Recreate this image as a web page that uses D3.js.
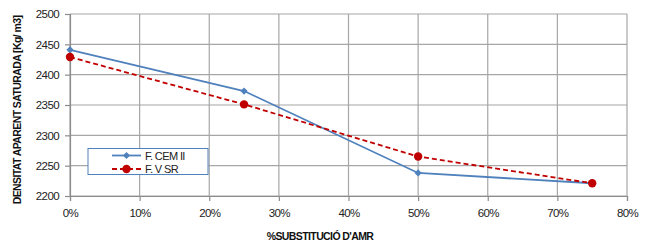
<!DOCTYPE html>
<html><head><meta charset="utf-8">
<script src="https://cdn.jsdelivr.net/npm/d3@7"></script>
<style>body{margin:0;background:#fff}svg{display:block;font-family:"Liberation Sans",Arial,sans-serif}</style>
</head><body>
<script>
const xValues = [0, 25, 50, 75];
const cemII = [2441, 2373, 2238, 2221];
const vSR = [2429, 2351, 2265, 2221];
const seriesNames = ["F. CEM II", "F. V SR"];
const yTicks = [2200, 2250, 2300, 2350, 2400, 2450, 2500];
const xTicks = [0, 10, 20, 30, 40, 50, 60, 70, 80];
const xTitle = "%SUBSTITUCIÓ D'AMR";
const yTitle = "DENSITAT APARENT SATURADA [Kg/ m3]";

const W = 648, H = 241;
const svg = d3.select("body").append("svg").attr("width", W).attr("height", H);
const x = d3.scaleLinear().domain([0, 80]).range([70, 627]);
const y = d3.scaleLinear().domain([2200, 2500]).range([196, 14]);

// gridlines
svg.append("g").selectAll("line").data(yTicks).join("line")
  .attr("x1", x(0)).attr("x2", x(80)).attr("y1", d => y(d)).attr("y2", d => y(d))
  .attr("stroke", "#a6a6a6").attr("stroke-width", 1.2);
svg.append("g").selectAll("line").data(xTicks).join("line")
  .attr("x1", d => x(d)).attr("x2", d => x(d)).attr("y1", y(2200)).attr("y2", y(2500))
  .attr("stroke", "#a6a6a6").attr("stroke-width", 1.2);

// axes
const xAxis = svg.append("g").attr("transform", `translate(0,${y(2200)})`)
  .call(d3.axisBottom(x).tickValues(xTicks).tickFormat(d => d + "%").tickSize(5).tickPadding(8));
const yAxis = svg.append("g").attr("transform", `translate(${x(0)},0)`)
  .call(d3.axisLeft(y).tickValues(yTicks).tickFormat(d3.format("d")).tickSize(5).tickPadding(6));
[xAxis, yAxis].forEach(a => {
  a.select(".domain").attr("stroke", "#8c8c8c").attr("stroke-width", 1.2);
  a.selectAll(".tick line").attr("stroke", "#8c8c8c").attr("stroke-width", 1.2);
  a.selectAll("text").attr("font-size", 11.5).attr("fill", "#222")
    .attr("font-family", "Liberation Sans, Arial, sans-serif").attr("letter-spacing", -0.6);
});

// lines
const line1 = d3.line().x((d, i) => x(xValues[i])).y(d => y(d));
svg.append("path").datum(cemII).attr("d", line1).attr("fill", "none")
  .attr("stroke", "#4f81bd").attr("stroke-width", 1.8);
svg.append("path").datum(vSR).attr("d", line1).attr("fill", "none")
  .attr("stroke", "#c00000").attr("stroke-width", 1.8).attr("stroke-dasharray", "5,3");

const diamond = d3.symbol().type(d3.symbolSquare).size(26);
svg.append("g").selectAll("path").data(cemII).join("path")
  .attr("d", diamond).attr("transform", (d, i) => `translate(${x(xValues[i])},${y(d)}) rotate(45)`)
  .attr("fill", "#4f81bd");
svg.append("g").selectAll("circle").data(vSR).join("circle")
  .attr("cx", (d, i) => x(xValues[i])).attr("cy", d => y(d)).attr("r", 4.2)
  .attr("fill", "#c00000");

// legend
const lg = svg.append("g");
lg.append("rect").attr("x", 88).attr("y", 148.5).attr("width", 120).attr("height", 26)
  .attr("fill", "#fff").attr("stroke", "#4f81bd").attr("stroke-width", 1);
const rows = [{n: seriesNames[0], y: 155.5, c: "#4f81bd", dash: null, m: "d"},
              {n: seriesNames[1], y: 169, c: "#c00000", dash: "5,3", m: "c"}];
rows.forEach(r => {
  lg.append("line").attr("x1", 112).attr("x2", 141).attr("y1", r.y).attr("y2", r.y)
    .attr("stroke", r.c).attr("stroke-width", 1.8).attr("stroke-dasharray", r.dash);
  if (r.m === "d") lg.append("path").attr("d", diamond).attr("transform", `translate(126.5,${r.y}) rotate(45)`).attr("fill", r.c);
  else lg.append("circle").attr("cx", 126.5).attr("cy", r.y).attr("r", 4.2).attr("fill", r.c);
  lg.append("text").attr("x", 145).attr("y", r.y + 4).attr("font-size", 11).attr("letter-spacing", -0.6)
    .attr("fill", "#222").text(r.n);
});

// titles
svg.append("text").attr("x", 320).attr("y", 240).attr("text-anchor", "middle")
  .attr("font-size", 10.5).attr("font-weight", "bold").attr("letter-spacing", -0.6).attr("fill", "#111")
  .text(xTitle);
svg.append("text").attr("transform", "translate(21,110) rotate(-90)").attr("text-anchor", "middle")
  .attr("font-size", 10.5).attr("font-weight", "bold").attr("letter-spacing", -0.6).attr("fill", "#111")
  .text(yTitle);
</script>
</body></html>
